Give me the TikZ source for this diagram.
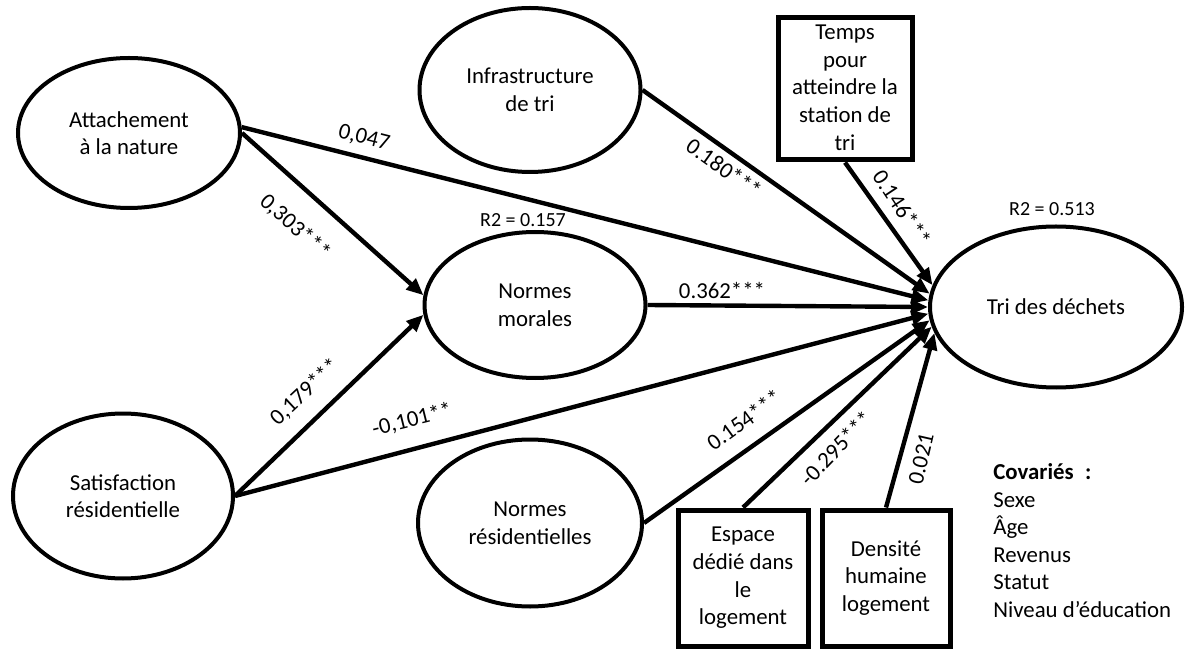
\documentclass[tikz,border=0pt]{standalone}
\usepackage{fontspec}
\setmainfont{Carlito}
\usetikzlibrary{arrows.meta,shapes.geometric}
\begin{document}
\begin{tikzpicture}[x=0.5pt,y=-0.5pt,
  every node/.style={font=\fontsize{11.4}{13.8}\selectfont},
  lat/.style={ellipse,draw,line width=2pt,inner sep=0pt,align=center},
  obs/.style={rectangle,draw,line width=2.5pt,inner sep=0pt,align=center},
  pth/.style={line width=2.2pt,-{Triangle[length=8.5pt,width=7pt]}},
  coef/.style={inner sep=1pt},
  rtwo/.style={font=\fontsize{10}{12}\selectfont,inner sep=0pt}]
\useasboundingbox (0,0) rectangle (1186,651);
% latent variables
\node[lat,minimum width=111pt,minimum height=75pt] (att) at (129,133) {Attachement\\à la nature};
\node[lat,minimum width=110.5pt,minimum height=82pt] (infra) at (530,90) {Infrastructure\\de tri};
\node[lat,minimum width=110.5pt,minimum height=73pt] (mor) at (535,305) {Normes\\morales};
\node[lat,minimum width=110pt,minimum height=82.5pt] (sat) at (123,496) {Satisfaction\\résidentielle};
\node[lat,minimum width=112pt,minimum height=83.5pt] (res) at (530,523) {Normes\\résidentielles};
\node[lat,minimum width=126pt,minimum height=80.5pt] (tri) at (1056,307) {Tri des déchets};
% observed variables
\node[obs,minimum width=67pt,minimum height=71pt,text depth=1.5pt] (temps) at (845,89) {Temps\\pour\\atteindre la\\station de\\tri};
\node[obs,minimum width=65pt,minimum height=68pt] (esp) at (743,578) {Espace\\dédié dans\\le\\logement};
\node[obs,minimum width=64pt,minimum height=68pt] (dens) at (886,578) {Densité\\humaine\\logement};
% R2
\node[rtwo] (r2m) at (523,220) {R2 = 0.157};
\node[rtwo] (r2t) at (1052,209) {R2 = 0.513};
% paths
\draw[pth] (att.east) -- (mor.175);
\draw[pth] (att.3) -- (tri.177);
\draw[pth] (sat.east) -- (mor.185);
\draw[pth] (sat.east) -- (tri.183);
\draw[pth] (infra.east) -- (tri.174);
\draw[pth] (temps.south) -- (tri.170);
\draw[pth] (mor.east) -- (tri.west);
\draw[pth] (res.east) -- (tri.186);
\draw[pth] (esp.north) -- (tri.189);
\draw[pth] (dens.north) -- (tri.192);
% coefficients
\node[coef,rotate=-14] (l1) at (364,138) {0,047};
\node[coef,rotate=-42] (l2) at (295,227) {0,303***};
\node[coef,rotate=43] (l3) at (305,392) {0,179***};
\node[coef,rotate=14] (l4) at (412,420) {-0,101**};
\node[coef] (l5) at (722,290) {0.362***};
\node[coef,rotate=-35.5] (l6) at (724,168) {0.180***};
\node[coef,rotate=-56.5] (l7) at (902,208) {0.146***};
\node[coef,rotate=36] (l8) at (744,420) {0.154***};
\node[coef,rotate=46] (l9) at (836,448) {-0.295***};
\node[coef,rotate=77] (l10) at (921,459) {0.021};
% covariates
\node[anchor=north west,align=left,inner sep=0pt] (cov) at (993,463) {\textbf{Covariés\enspace:}\\Sexe\\Âge\\Revenus\\Statut\\Niveau d’éducation};
\end{tikzpicture}
\end{document}
